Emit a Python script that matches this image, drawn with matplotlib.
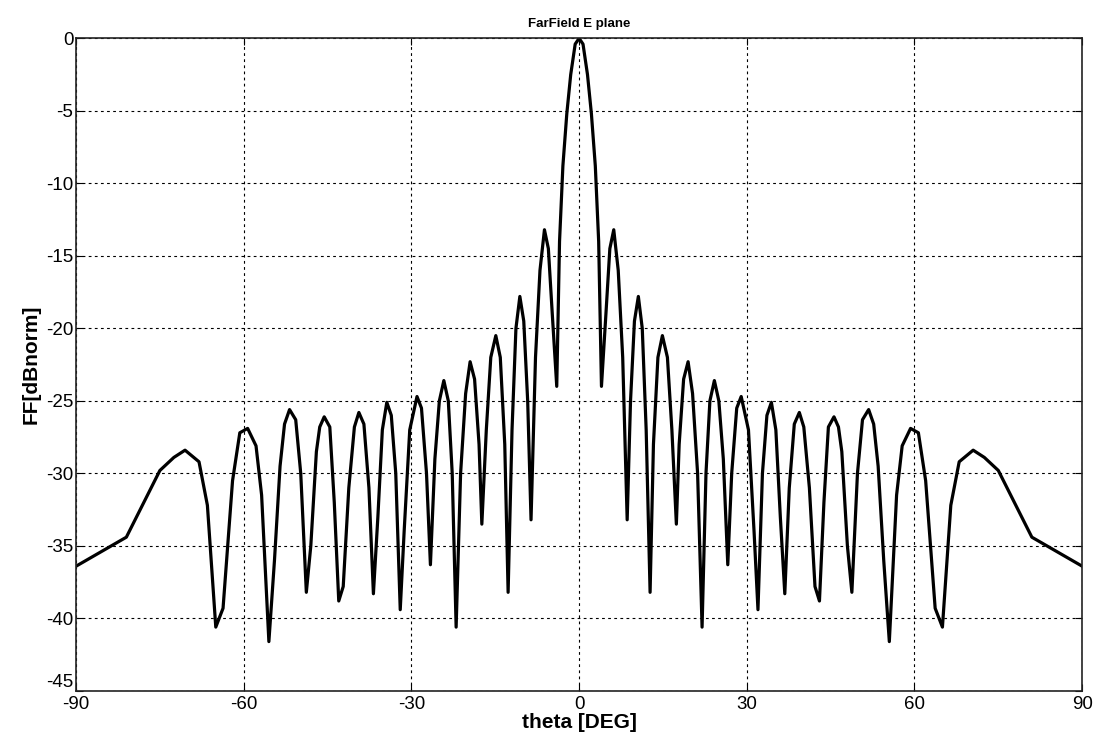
import matplotlib.pyplot as plt

# far-field E-plane cut
theta = [-90.0, -81.0, -75.0, -72.5, -70.5, -68.0, -66.5, -65.0, -63.7, -62.0,
         -60.7, -59.3, -57.8, -56.8, -55.5, -54.5, -53.5, -52.7, -51.8, -50.7,
         -49.8, -48.8, -48.0, -47.0, -46.4, -45.6, -44.6, -43.8, -43.0, -42.2,
         -41.2, -40.2, -39.4, -38.5, -37.6, -36.8, -36.0, -35.2, -34.4, -33.6,
         -32.8, -32.0, -31.3, -30.3, -29.0, -28.2, -27.3, -26.6, -25.8, -25.0,
         -24.2, -23.4, -22.7, -22.0, -21.2, -20.3, -19.5, -18.7, -17.9, -17.4,
         -16.6, -15.8, -14.9, -14.1, -13.3, -12.7, -12.0, -11.3, -10.6, -9.9,
         -9.2, -8.6, -7.8, -7.0, -6.2, -5.5, -4.8, -4.0, -3.5, -2.9,
         -2.2, -1.5, -0.7, 0.0,
         0.7, 1.5, 2.2, 2.9, 3.5, 4.0, 4.8, 5.5, 6.2, 7.0,
         7.8, 8.6, 9.2, 9.9, 10.6, 11.3, 12.0, 12.7, 13.3, 14.1,
         14.9, 15.8, 16.6, 17.4, 17.9, 18.7, 19.5, 20.3, 21.2, 22.0,
         22.7, 23.4, 24.2, 25.0, 25.8, 26.6, 27.3, 28.2, 29.0, 30.3,
         31.3, 32.0, 32.8, 33.6, 34.4, 35.2, 36.0, 36.8, 37.6, 38.5,
         39.4, 40.2, 41.2, 42.2, 43.0, 43.8, 44.6, 45.6, 46.4, 47.0,
         48.0, 48.8, 49.8, 50.7, 51.8, 52.7, 53.5, 54.5, 55.5, 56.8,
         57.8, 59.3, 60.7, 62.0, 63.7, 65.0, 66.5, 68.0, 70.5, 72.5,
         75.0, 81.0, 90.0]

ff = [-36.4, -34.4, -29.8, -28.9, -28.4, -29.2, -32.2, -40.6, -39.3, -30.5,
      -27.2, -26.9, -28.1, -31.5, -41.6, -36.0, -29.5, -26.6, -25.6, -26.3,
      -30.0, -38.2, -35.0, -28.5, -26.8, -26.1, -26.8, -32.0, -38.8, -37.8,
      -31.0, -26.8, -25.8, -26.6, -31.0, -38.3, -33.0, -27.0, -25.1, -26.0,
      -30.0, -39.4, -34.0, -27.0, -24.7, -25.5, -30.0, -36.3, -29.0, -25.0,
      -23.6, -25.0, -30.0, -40.6, -30.0, -24.5, -22.3, -23.5, -28.0, -33.5,
      -27.0, -22.0, -20.5, -22.0, -28.0, -38.2, -27.0, -20.0, -17.8, -19.5,
      -25.0, -33.2, -22.0, -16.0, -13.2, -14.5, -19.0, -24.0, -14.0, -8.8,
      -5.2, -2.5, -0.4, 0.0,
      -0.4, -2.5, -5.2, -8.8, -14.0, -24.0, -19.0, -14.5, -13.2, -16.0,
      -22.0, -33.2, -25.0, -19.5, -17.8, -20.0, -27.0, -38.2, -28.0, -22.0,
      -20.5, -22.0, -27.0, -33.5, -28.0, -23.5, -22.3, -24.5, -30.0, -40.6,
      -30.0, -25.0, -23.6, -25.0, -29.0, -36.3, -30.0, -25.5, -24.7, -27.0,
      -34.0, -39.4, -30.0, -26.0, -25.1, -27.0, -33.0, -38.3, -31.0, -26.6,
      -25.8, -26.8, -31.0, -37.8, -38.8, -32.0, -26.8, -26.1, -26.8, -28.5,
      -35.0, -38.2, -30.0, -26.3, -25.6, -26.6, -29.5, -36.0, -41.6, -31.5,
      -28.1, -26.9, -27.2, -30.5, -39.3, -40.6, -32.2, -29.2, -28.4, -28.9,
      -29.8, -34.4, -36.4]

x_ticks = [-90, -60, -30, 0, 30, 60, 90]
y_ticks = [0, -5, -10, -15, -20, -25, -30, -35, -40, -45]

plt.rcParams['font.family'] = ['Liberation Sans', 'DejaVu Sans']
plt.rcParams['axes.unicode_minus'] = False

fig = plt.figure(figsize=(11.02, 7.51), dpi=100)
ax = fig.add_axes([0.069, 0.08, 0.913, 0.869])

ax.plot(theta, ff, color="black", linewidth=2.3)

ax.set_xlim(-90, 90)
ax.set_ylim(-45, 0)
ax.set_xticks(x_ticks)
ax.set_yticks(y_ticks)
ax.tick_params(direction="in", labelsize=13.5, length=5, pad=2,
               top=True, right=True)
ax.tick_params(axis="x", pad=4)
# the -45 label sits just above the corner, like the original
ax.get_yticklabels()[-1].set_verticalalignment("bottom")
ax.grid(True, color="black", linestyle=(0, (2.5, 3)), linewidth=0.8)
for s in ax.spines.values():
    s.set_color("#222222")
    s.set_linewidth(1.2)

ax.set_title("FarField E plane", fontsize=9.5, fontweight="bold", pad=8)
ax.set_xlabel("theta [DEG]", fontsize=15, fontweight="bold", labelpad=0)
ax.set_ylabel("FF[dBnorm]", fontsize=15, fontweight="bold", labelpad=4)

fig.savefig("out.png", dpi=100)
